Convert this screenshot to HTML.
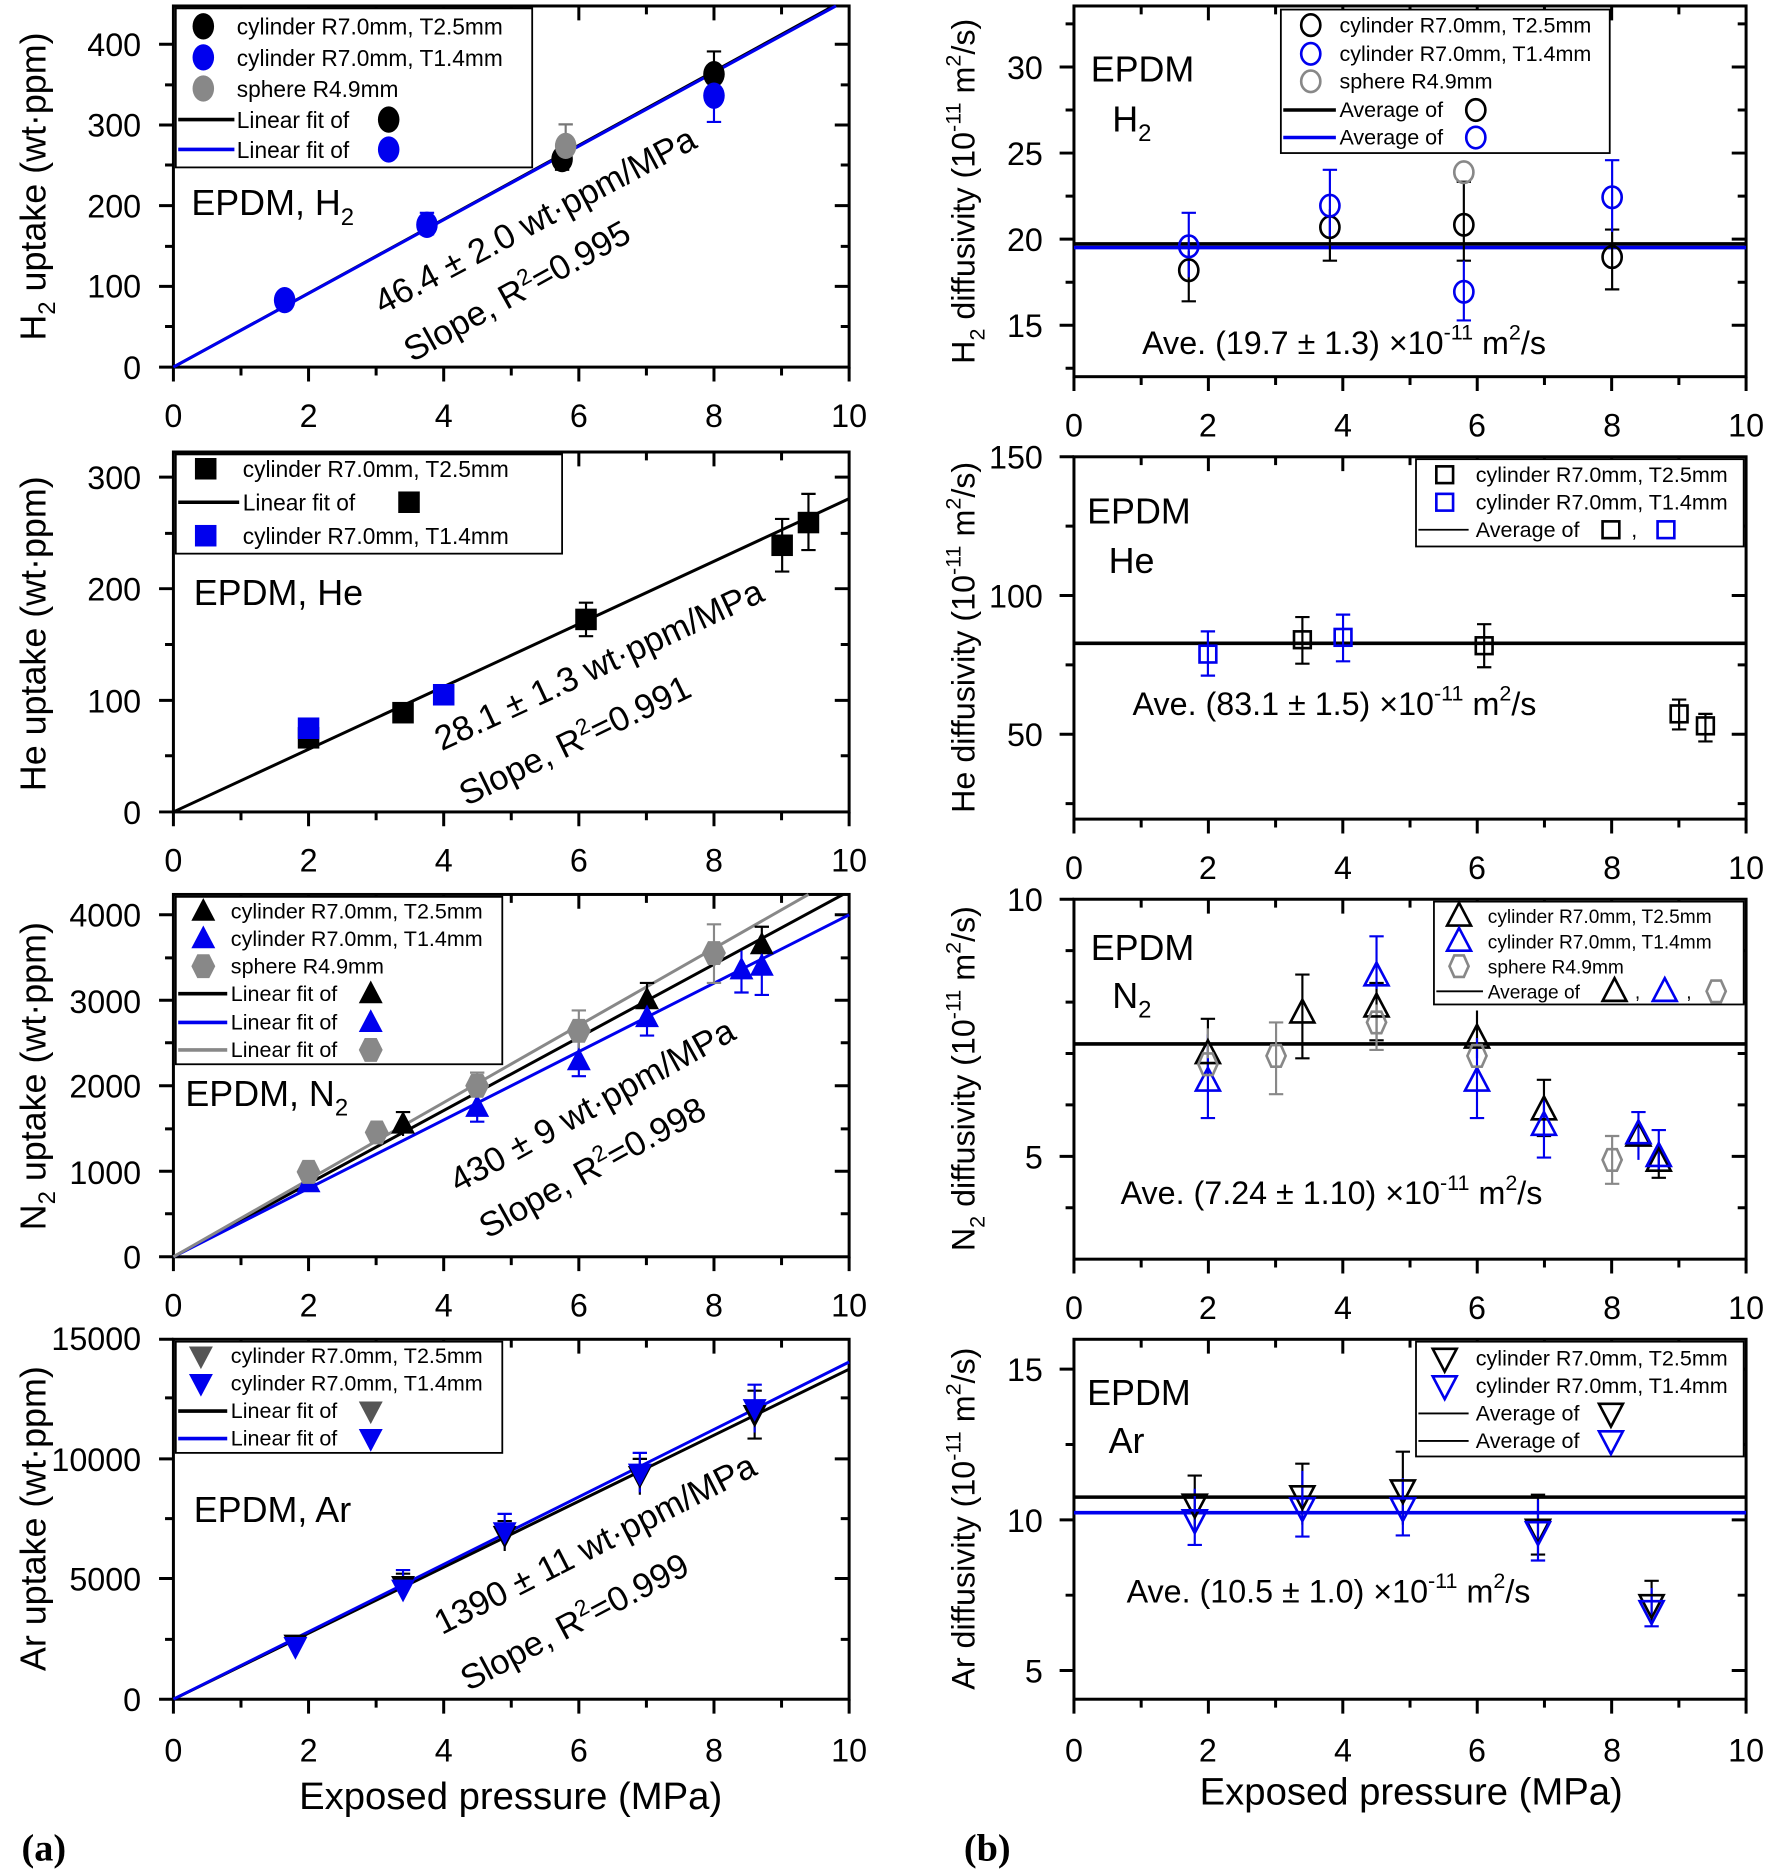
<!DOCTYPE html>
<html><head><meta charset="utf-8"><style>
html,body{margin:0;padding:0;background:#fff}
svg{display:block}
text{font-family:"Liberation Sans",Arial,sans-serif;fill:#000}
</style></head><body>
<svg width="1770" height="1875" viewBox="0 0 1480 1568" preserveAspectRatio="none" xmlns="http://www.w3.org/2000/svg">
<defs>
<symbol id="fc" overflow="visible"><ellipse cx="0" cy="0" rx="9" ry="11"/></symbol>
<symbol id="fs" overflow="visible"><rect x="-9" y="-9" width="18" height="18"/></symbol>
<symbol id="ft" overflow="visible"><path d="M0 -11 L10 8 L-10 8Z"/></symbol>
<symbol id="fd" overflow="visible"><path d="M0 11 L10 -8 L-10 -8Z"/></symbol>
<symbol id="fh" overflow="visible"><path d="M-5 -10 L5 -10 L10 0 L5 10 L-5 10 L-10 0Z"/></symbol>
<symbol id="oc" overflow="visible"><ellipse cx="0" cy="0" rx="8" ry="9" fill="none" stroke-width="2.2"/></symbol>
<symbol id="os" overflow="visible"><rect x="-7" y="-7" width="14" height="14" fill="none" stroke-width="2.2"/></symbol>
<symbol id="ot" overflow="visible"><path d="M0 -11 L10 8 L-10 8Z" fill="none" stroke-width="2.2"/></symbol>
<symbol id="od" overflow="visible"><path d="M0 11 L10 -8 L-10 -8Z" fill="none" stroke-width="2.2"/></symbol>
<symbol id="oh" overflow="visible"><path d="M-4 -9 L4 -9 L8 0 L4 9 L-4 9 L-8 0Z" fill="none" stroke-width="2.2"/></symbol>
</defs>

<g stroke="#000" stroke-width="2.5" fill="none">
<rect x="145" y="5" width="565" height="302"/>
<rect x="145" y="378" width="565" height="301"/>
<rect x="145" y="748" width="565" height="303"/>
<rect x="145" y="1120" width="565" height="301"/>
<rect x="898" y="5" width="562" height="310"/>
<rect x="898" y="382" width="562" height="303"/>
<rect x="898" y="752" width="562" height="301"/>
<rect x="898" y="1120" width="562" height="301"/>
</g>

<g stroke="#000" stroke-width="2.5">
<path d="M145 307v12M201.5 307v7M258 307v12M314.5 307v7M371 307v12M427.5 307v7M484 307v12M540.5 307v7M597 307v12M653.5 307v7M710 307v12
M201.5 5v7M258 5v12M314.5 5v7M371 5v12M427.5 5v7M484 5v12M540.5 5v7M597 5v12M653.5 5v7"/>
<path d="M145 679v12M201.5 679v7M258 679v12M314.5 679v7M371 679v12M427.5 679v7M484 679v12M540.5 679v7M597 679v12M653.5 679v7M710 679v12
M201.5 378v7M258 378v12M314.5 378v7M371 378v12M427.5 378v7M484 378v12M540.5 378v7M597 378v12M653.5 378v7"/>
<path d="M145 1051v12M201.5 1051v7M258 1051v12M314.5 1051v7M371 1051v12M427.5 1051v7M484 1051v12M540.5 1051v7M597 1051v12M653.5 1051v7M710 1051v12
M201.5 748v7M258 748v12M314.5 748v7M371 748v12M427.5 748v7M484 748v12M540.5 748v7M597 748v12M653.5 748v7"/>
<path d="M145 1421v12M201.5 1421v7M258 1421v12M314.5 1421v7M371 1421v12M427.5 1421v7M484 1421v12M540.5 1421v7M597 1421v12M653.5 1421v7M710 1421v12
M201.5 1120v7M258 1120v12M314.5 1120v7M371 1120v12M427.5 1120v7M484 1120v12M540.5 1120v7M597 1120v12M653.5 1120v7"/>
<path d="M898 315v12M954.2 315v7M1010.4 315v12M1066.6 315v7M1122.8 315v12M1179 315v7M1235.2 315v12M1291.4 315v7M1347.6 315v12M1403.8 315v7M1460 315v12
M954.2 5v7M1010.4 5v12M1066.6 5v7M1122.8 5v12M1179 5v7M1235.2 5v12M1291.4 5v7M1347.6 5v12M1403.8 5v7"/>
<path d="M898 685v12M954.2 685v7M1010.4 685v12M1066.6 685v7M1122.8 685v12M1179 685v7M1235.2 685v12M1291.4 685v7M1347.6 685v12M1403.8 685v7M1460 685v12
M954.2 382v7M1010.4 382v12M1066.6 382v7M1122.8 382v12M1179 382v7M1235.2 382v12M1291.4 382v7M1347.6 382v12M1403.8 382v7"/>
<path d="M898 1053v12M954.2 1053v7M1010.4 1053v12M1066.6 1053v7M1122.8 1053v12M1179 1053v7M1235.2 1053v12M1291.4 1053v7M1347.6 1053v12M1403.8 1053v7M1460 1053v12
M954.2 752v7M1010.4 752v12M1066.6 752v7M1122.8 752v12M1179 752v7M1235.2 752v12M1291.4 752v7M1347.6 752v12M1403.8 752v7"/>
<path d="M898 1421v12M954.2 1421v7M1010.4 1421v12M1066.6 1421v7M1122.8 1421v12M1179 1421v7M1235.2 1421v12M1291.4 1421v7M1347.6 1421v12M1403.8 1421v7M1460 1421v12
M954.2 1120v7M1010.4 1120v12M1066.6 1120v7M1122.8 1120v12M1179 1120v7M1235.2 1120v12M1291.4 1120v7M1347.6 1120v12M1403.8 1120v7"/>
<path d="M145 307h-12M145 239.5h-12M145 172h-12M145 104.5h-12M145 37h-12M145 273h-7M145 206h-7M145 138h-7M145 71h-7
M710 239.5h-12M710 172h-12M710 104.5h-12M710 37h-12M710 273h-7M710 206h-7M710 138h-7M710 71h-7"/>
<path d="M145 679h-12M145 585.7h-12M145 492.3h-12M145 399h-12M145 632h-7M145 539h-7M145 446h-7
M710 585.7h-12M710 492.3h-12M710 399h-12M710 632h-7M710 539h-7M710 446h-7"/>
<path d="M145 1051h-12M145 979.5h-12M145 908h-12M145 836.5h-12M145 765h-12M145 1015h-7M145 944h-7M145 872h-7M145 801h-7
M710 979.5h-12M710 908h-12M710 836.5h-12M710 765h-12M710 1015h-7M710 944h-7M710 872h-7M710 801h-7"/>
<path d="M145 1421h-12M145 1320h-12M145 1220h-12M145 1120h-12M145 1371h-7M145 1270h-7M145 1169h-7
M710 1320h-12M710 1220h-12M710 1371h-7M710 1270h-7M710 1169h-7"/>
<path d="M898 272h-12M898 200h-12M898 128h-12M898 56h-12M898 308h-7M898 236h-7M898 164h-7M898 92h-7M898 20h-7
M1460 272h-12M1460 200h-12M1460 128h-12M1460 56h-12M1460 236h-7M1460 164h-7M1460 92h-7M1460 20h-7"/>
<path d="M898 614h-12M898 498h-12M898 382h-12M898 672h-7M898 556h-7M898 440h-7
M1460 614h-12M1460 498h-12M1460 672h-7M1460 556h-7M1460 440h-7"/>
<path d="M898 967h-12M898 752h-12M898 795h-7M898 838h-7M898 881h-7M898 924h-7M898 1010h-7
M1460 967h-12M1460 795h-7M1460 838h-7M1460 881h-7M1460 924h-7M1460 1010h-7"/>
<path d="M898 1397h-12M898 1271h-12M898 1145h-12M898 1334h-7M898 1208h-7
M1460 1397h-12M1460 1271h-12M1460 1145h-12M1460 1334h-7M1460 1208h-7"/>
</g>

<g font-size="27" text-anchor="middle">
<text x="145" y="357">0</text><text x="258" y="357">2</text><text x="371" y="357">4</text><text x="484" y="357">6</text><text x="597" y="357">8</text><text x="710" y="357">10</text>
<text x="145" y="729">0</text><text x="258" y="729">2</text><text x="371" y="729">4</text><text x="484" y="729">6</text><text x="597" y="729">8</text><text x="710" y="729">10</text>
<text x="145" y="1101">0</text><text x="258" y="1101">2</text><text x="371" y="1101">4</text><text x="484" y="1101">6</text><text x="597" y="1101">8</text><text x="710" y="1101">10</text>
<text x="145" y="1473">0</text><text x="258" y="1473">2</text><text x="371" y="1473">4</text><text x="484" y="1473">6</text><text x="597" y="1473">8</text><text x="710" y="1473">10</text>
<text x="898" y="365">0</text><text x="1010" y="365">2</text><text x="1123" y="365">4</text><text x="1235" y="365">6</text><text x="1348" y="365">8</text><text x="1460" y="365">10</text>
<text x="898" y="735">0</text><text x="1010" y="735">2</text><text x="1123" y="735">4</text><text x="1235" y="735">6</text><text x="1348" y="735">8</text><text x="1460" y="735">10</text>
<text x="898" y="1103">0</text><text x="1010" y="1103">2</text><text x="1123" y="1103">4</text><text x="1235" y="1103">6</text><text x="1348" y="1103">8</text><text x="1460" y="1103">10</text>
<text x="898" y="1473">0</text><text x="1010" y="1473">2</text><text x="1123" y="1473">4</text><text x="1235" y="1473">6</text><text x="1348" y="1473">8</text><text x="1460" y="1473">10</text>
</g>
<g font-size="27" text-anchor="end">
<text x="118" y="317">0</text><text x="118" y="249">100</text><text x="118" y="182">200</text><text x="118" y="114">300</text><text x="118" y="47">400</text>
<text x="118" y="689">0</text><text x="118" y="596">100</text><text x="118" y="502">200</text><text x="118" y="409">300</text>
<text x="118" y="1061">0</text><text x="118" y="990">1000</text><text x="118" y="918">2000</text><text x="118" y="847">3000</text><text x="118" y="775">4000</text>
<text x="118" y="1431">0</text><text x="118" y="1330">5000</text><text x="118" y="1230">10000</text><text x="118" y="1129">15000</text>
<text x="872" y="282">15</text><text x="872" y="210">20</text><text x="872" y="138">25</text><text x="872" y="66">30</text>
<text x="872" y="624">50</text><text x="872" y="508">100</text><text x="872" y="392">150</text>
<text x="872" y="977">5</text><text x="872" y="762">10</text>
<text x="872" y="1407">5</text><text x="872" y="1281">10</text><text x="872" y="1155">15</text>
</g>

<g font-size="30" text-anchor="middle">
<text transform="translate(38,156) rotate(-90)">H<tspan font-size="20" dy="8">2</tspan><tspan dy="-8"> uptake (wt·ppm)</tspan></text>
<text transform="translate(38,530) rotate(-90)">He uptake (wt·ppm)</text>
<text transform="translate(38,900) rotate(-90)">N<tspan font-size="20" dy="8">2</tspan><tspan dy="-8"> uptake (wt·ppm)</tspan></text>
<text transform="translate(38,1270) rotate(-90)">Ar uptake (wt·ppm)</text>
<text transform="translate(815,160) rotate(-90)" font-size="27">H<tspan font-size="18" dy="8">2</tspan><tspan dy="-8"> diffusivity (10</tspan><tspan font-size="18" dy="-12">-11</tspan><tspan dy="12"> m</tspan><tspan font-size="18" dy="-12">2</tspan><tspan dy="12">/s)</tspan></text>
<text transform="translate(815,533) rotate(-90)" font-size="27">He diffusivity (10<tspan font-size="18" dy="-12">-11</tspan><tspan dy="12"> m</tspan><tspan font-size="18" dy="-12">2</tspan><tspan dy="12">/s)</tspan></text>
<text transform="translate(815,902) rotate(-90)" font-size="27">N<tspan font-size="18" dy="8">2</tspan><tspan dy="-8"> diffusivity (10</tspan><tspan font-size="18" dy="-12">-11</tspan><tspan dy="12"> m</tspan><tspan font-size="18" dy="-12">2</tspan><tspan dy="12">/s)</tspan></text>
<text transform="translate(815,1270) rotate(-90)" font-size="27">Ar diffusivity (10<tspan font-size="18" dy="-12">-11</tspan><tspan dy="12"> m</tspan><tspan font-size="18" dy="-12">2</tspan><tspan dy="12">/s)</tspan></text>
<text x="427" y="1513" font-size="32">Exposed pressure (MPa)</text>
<text x="1180" y="1509" font-size="32">Exposed pressure (MPa)</text>
</g>
<text x="18" y="1556" font-size="32" font-weight="bold" style="font-family:'Liberation Serif',serif">(a)</text>
<text x="806" y="1556" font-size="32" font-weight="bold" style="font-family:'Liberation Serif',serif">(b)</text>

<!-- L1 -->
<line x1="145" y1="307" x2="697" y2="5" stroke="#000" stroke-width="2.5"/>
<line x1="145" y1="307" x2="699" y2="5" stroke="#0000ee" stroke-width="2.5"/>
<g stroke-width="1.8" fill="none">
<path stroke="#000" d="M597 43V80M591 43h12M591 80h12M470 120V142M464 142h12"/>
<path stroke="#0000ee" d="M357 178V196M351 178h12M351 196h12M597 60V102M591 102h12"/>
<path stroke="#777" d="M473 104V127M467 104h12"/>
</g>
<use href="#fc" x="597" y="62" fill="#000"/>
<use href="#fc" x="470" y="133" fill="#000"/>
<use href="#fc" x="473" y="122" fill="#888"/>
<use href="#fc" x="238" y="251" fill="#0000ee"/>
<use href="#fc" x="357" y="188" fill="#0000ee"/>
<use href="#fc" x="597" y="80" fill="#0000ee"/>
<rect x="147" y="7" width="298" height="133" fill="#fff" stroke="#000" stroke-width="1.5"/>
<g font-size="19">
<use href="#fc" x="170" y="22" fill="#000"/><text x="198" y="29">cylinder R7.0mm, T2.5mm</text>
<use href="#fc" x="170" y="48" fill="#0000ee"/><text x="198" y="55">cylinder R7.0mm, T1.4mm</text>
<use href="#fc" x="170" y="74" fill="#888"/><text x="198" y="81">sphere R4.9mm</text>
<line x1="149" y1="100" x2="196" y2="100" stroke="#000" stroke-width="3"/><text x="198" y="107">Linear fit of</text><use href="#fc" x="325" y="100" fill="#000"/>
<line x1="149" y1="125" x2="196" y2="125" stroke="#0000ee" stroke-width="3"/><text x="198" y="132">Linear fit of</text><use href="#fc" x="325" y="125" fill="#0000ee"/>
</g>
<text x="160" y="180" font-size="30">EPDM, H<tspan font-size="20" dy="8">2</tspan></text>
<text transform="translate(452,193) rotate(-28)" font-size="29" text-anchor="middle">46.4 ± 2.0 wt·ppm/MPa</text>
<text transform="translate(437,252) rotate(-29)" font-size="29" text-anchor="middle">Slope, R<tspan font-size="19" dy="-11">2</tspan><tspan dy="11">=0.995</tspan></text>

<!-- L2 -->
<line x1="145" y1="679" x2="710" y2="417" stroke="#000" stroke-width="2.5"/>
<g stroke="#000" stroke-width="1.8" fill="none">
<path d="M490 504V532M484 504h12M484 532h12M654 434V478M648 434h12M648 478h12M676 413V460M670 413h12M670 460h12M258 610V625M252 625h12"/>
</g>
<use href="#fs" x="258" y="617" fill="#000"/>
<use href="#fs" x="337" y="596" fill="#000"/>
<use href="#fs" x="490" y="518" fill="#000"/>
<use href="#fs" x="654" y="456" fill="#000"/>
<use href="#fs" x="676" y="437" fill="#000"/>
<use href="#fs" x="258" y="609" fill="#0000ee"/>
<use href="#fs" x="371" y="581" fill="#0000ee"/>
<rect x="147" y="380" width="323" height="83" fill="#fff" stroke="#000" stroke-width="1.5"/>
<g font-size="19">
<use href="#fs" x="172" y="392" fill="#000"/><text x="203" y="399">cylinder R7.0mm, T2.5mm</text>
<line x1="149" y1="420" x2="200" y2="420" stroke="#000" stroke-width="3"/><text x="203" y="427">Linear fit of</text><use href="#fs" x="342" y="420" fill="#000"/>
<use href="#fs" x="172" y="448" fill="#0000ee"/><text x="203" y="455">cylinder R7.0mm, T1.4mm</text>
</g>
<text x="162" y="506" font-size="30">EPDM, He</text>
<text transform="translate(505,565) rotate(-25)" font-size="29" text-anchor="middle">28.1 ± 1.3 wt·ppm/MPa</text>
<text transform="translate(485,628) rotate(-26)" font-size="29" text-anchor="middle">Slope, R<tspan font-size="19" dy="-11">2</tspan><tspan dy="11">=0.991</tspan></text>

<!-- L3 -->
<line x1="145" y1="1051" x2="705" y2="748" stroke="#000" stroke-width="2.5"/>
<line x1="145" y1="1051" x2="710" y2="765" stroke="#0000ee" stroke-width="2.5"/>
<line x1="145" y1="1051" x2="676" y2="748" stroke="#888" stroke-width="2.5"/>
<g stroke-width="1.8" fill="none">
<path stroke="#000" d="M541 822V850M535 822h12M637 775V805M631 775h12M484 860V885M478 860h12M337 930V950M331 930h12"/>
<path stroke="#0000ee" d="M620 795V830M614 830h12M637 790V832M631 832h12M541 836V866M535 866h12M484 873V900M478 900h12M399 914V938M393 938h12"/>
<path stroke="#888" d="M597 773V822M591 773h12M591 822h12M484 845V878M478 845h12M399 897V918M393 897h12"/>
</g>
<use href="#ft" x="337" y="940" fill="#000"/>
<use href="#ft" x="541" y="836" fill="#000"/>
<use href="#ft" x="637" y="790" fill="#000"/>
<use href="#ft" x="258" y="989" fill="#0000ee"/>
<use href="#ft" x="399" y="926" fill="#0000ee"/>
<use href="#ft" x="484" y="887" fill="#0000ee"/>
<use href="#ft" x="541" y="851" fill="#0000ee"/>
<use href="#ft" x="620" y="811" fill="#0000ee"/>
<use href="#ft" x="637" y="808" fill="#0000ee"/>
<use href="#fh" x="258" y="980" fill="#888"/>
<use href="#fh" x="315" y="947" fill="#888"/>
<use href="#fh" x="399" y="908" fill="#888"/>
<use href="#fh" x="484" y="862" fill="#888"/>
<use href="#fh" x="597" y="797" fill="#888"/>
<rect x="147" y="750" width="273" height="140" fill="#fff" stroke="#000" stroke-width="1.5"/>
<g font-size="18">
<use href="#ft" x="170" y="762" fill="#000"/><text x="193" y="768">cylinder R7.0mm, T2.5mm</text>
<use href="#ft" x="170" y="785" fill="#0000ee"/><text x="193" y="791">cylinder R7.0mm, T1.4mm</text>
<use href="#fh" x="170" y="808" fill="#888"/><text x="193" y="814">sphere R4.9mm</text>
<line x1="149" y1="831" x2="190" y2="831" stroke="#000" stroke-width="3"/><text x="193" y="837">Linear fit of</text><use href="#ft" x="310" y="831" fill="#000"/>
<line x1="149" y1="855" x2="190" y2="855" stroke="#0000ee" stroke-width="3"/><text x="193" y="861">Linear fit of</text><use href="#ft" x="310" y="855" fill="#0000ee"/>
<line x1="149" y1="878" x2="190" y2="878" stroke="#888" stroke-width="3"/><text x="193" y="884">Linear fit of</text><use href="#fh" x="310" y="878" fill="#888"/>
</g>
<text x="155" y="925" font-size="30">EPDM, N<tspan font-size="20" dy="8">2</tspan></text>
<text transform="translate(500,933) rotate(-29)" font-size="29" text-anchor="middle">430 ± 9 wt·ppm/MPa</text>
<text transform="translate(500,985) rotate(-29)" font-size="29" text-anchor="middle">Slope, R<tspan font-size="19" dy="-11">2</tspan><tspan dy="11">=0.998</tspan></text>

<!-- L4 -->
<line x1="145" y1="1421" x2="710" y2="1145" stroke="#000" stroke-width="2.5"/>
<line x1="145" y1="1421" x2="710" y2="1139" stroke="#0000ee" stroke-width="2.5"/>
<g stroke-width="1.8" fill="none">
<path stroke="#000" d="M631 1163V1203M625 1163h12M625 1203h12M535 1220V1250M529 1220h12M422 1272V1297M416 1272h12M337 1316V1336M331 1316h12"/>
<path stroke="#0000ee" d="M631 1158V1198M625 1158h12M535 1215V1248M529 1215h12M422 1266V1294M416 1266h12M337 1313V1333M331 1313h12"/>
</g>
<use href="#fd" x="247" y="1375" fill="#000"/>
<use href="#fd" x="337" y="1326" fill="#000"/>
<use href="#fd" x="422" y="1284" fill="#000"/>
<use href="#fd" x="535" y="1234" fill="#000"/>
<use href="#fd" x="631" y="1183" fill="#000"/>
<use href="#fd" x="247" y="1377" fill="#0000ee"/>
<use href="#fd" x="337" y="1329" fill="#0000ee"/>
<use href="#fd" x="422" y="1281" fill="#0000ee"/>
<use href="#fd" x="535" y="1232" fill="#0000ee"/>
<use href="#fd" x="631" y="1178" fill="#0000ee"/>
<rect x="147" y="1122" width="273" height="93" fill="#fff" stroke="#000" stroke-width="1.5"/>
<g font-size="18">
<use href="#fd" x="168" y="1134" fill="#555"/><text x="193" y="1140">cylinder R7.0mm, T2.5mm</text>
<use href="#fd" x="168" y="1157" fill="#0000ee"/><text x="193" y="1163">cylinder R7.0mm, T1.4mm</text>
<line x1="149" y1="1180" x2="190" y2="1180" stroke="#000" stroke-width="3"/><text x="193" y="1186">Linear fit of</text><use href="#fd" x="310" y="1180" fill="#555"/>
<line x1="149" y1="1203" x2="190" y2="1203" stroke="#0000ee" stroke-width="3"/><text x="193" y="1209">Linear fit of</text><use href="#fd" x="310" y="1203" fill="#0000ee"/>
</g>
<text x="162" y="1273" font-size="30">EPDM, Ar</text>
<text transform="translate(502,1300) rotate(-27)" font-size="29" text-anchor="middle">1390 ± 11 wt·ppm/MPa</text>
<text transform="translate(485,1365) rotate(-28)" font-size="29" text-anchor="middle">Slope, R<tspan font-size="19" dy="-11">2</tspan><tspan dy="11">=0.999</tspan></text>

<!-- R1 -->
<line x1="898" y1="204" x2="1460" y2="204" stroke="#000" stroke-width="3"/>
<line x1="898" y1="207" x2="1460" y2="207" stroke="#0000ee" stroke-width="3"/>
<g stroke-width="1.8" fill="none">
<path stroke="#000" d="M994 210V252M988 252h12M1112 175V218M1106 218h12M1224 152V218M1218 152h12M1218 218h12M1348 192V242M1342 192h12M1342 242h12"/>
<path stroke="#0000ee" d="M994 178V232M988 178h12M1112 142V198M1106 142h12M1224 218V268M1218 268h12M1348 134V194M1342 134h12"/>
</g>
<use href="#oc" x="994" y="226" stroke="#000"/>
<use href="#oc" x="1112" y="190" stroke="#000"/>
<use href="#oc" x="1224" y="188" stroke="#000"/>
<use href="#oc" x="1348" y="215" stroke="#000"/>
<use href="#oc" x="994" y="206" stroke="#0000ee"/>
<use href="#oc" x="1112" y="172" stroke="#0000ee"/>
<use href="#oc" x="1224" y="244" stroke="#0000ee"/>
<use href="#oc" x="1348" y="165" stroke="#0000ee"/>
<use href="#oc" x="1224" y="144" stroke="#888"/>
<rect x="1071" y="8" width="275" height="120" fill="#fff" stroke="#000" stroke-width="1.5"/>
<g font-size="18">
<use href="#oc" x="1096" y="21" stroke="#000"/><text x="1120" y="27">cylinder R7.0mm, T2.5mm</text>
<use href="#oc" x="1096" y="45" stroke="#0000ee"/><text x="1120" y="51">cylinder R7.0mm, T1.4mm</text>
<use href="#oc" x="1096" y="68" stroke="#888"/><text x="1120" y="74">sphere R4.9mm</text>
<line x1="1073" y1="92" x2="1117" y2="92" stroke="#000" stroke-width="3"/><text x="1120" y="98">Average of</text><use href="#oc" x="1234" y="92" stroke="#000"/>
<line x1="1073" y1="115" x2="1117" y2="115" stroke="#0000ee" stroke-width="3"/><text x="1120" y="121">Average of</text><use href="#oc" x="1234" y="115" stroke="#0000ee"/>
</g>
<text x="912" y="68" font-size="30">EPDM</text>
<text x="930" y="110" font-size="30">H<tspan font-size="20" dy="8">2</tspan></text>
<text x="955" y="296" font-size="27">Ave. (19.7 ± 1.3) ×10<tspan font-size="18" dy="-12">-11</tspan><tspan dy="12"> m</tspan><tspan font-size="18" dy="-12">2</tspan><tspan dy="12">/s</tspan></text>

<!-- R2 -->
<line x1="898" y1="538" x2="1460" y2="538" stroke="#000" stroke-width="3"/>
<g stroke-width="1.8" fill="none">
<path stroke="#000" d="M1089 516V555M1083 516h12M1083 555h12M1241 522V558M1235 522h12M1235 558h12M1404 585V610M1398 585h12M1398 610h12M1426 597V620M1420 597h12M1420 620h12"/>
<path stroke="#0000ee" d="M1010 528V565M1004 528h12M1004 565h12M1123 514V553M1117 514h12M1117 553h12"/>
</g>
<use href="#os" x="1089" y="535" stroke="#000"/>
<use href="#os" x="1241" y="540" stroke="#000"/>
<use href="#os" x="1404" y="597" stroke="#000"/>
<use href="#os" x="1426" y="607" stroke="#000"/>
<use href="#os" x="1010" y="547" stroke="#0000ee"/>
<use href="#os" x="1123" y="533" stroke="#0000ee"/>
<rect x="1184" y="384" width="274" height="73" fill="#fff" stroke="#000" stroke-width="1.5"/>
<g font-size="18">
<use href="#os" x="1208" y="397" stroke="#000"/><text x="1234" y="403">cylinder R7.0mm, T2.5mm</text>
<use href="#os" x="1208" y="420" stroke="#0000ee"/><text x="1234" y="426">cylinder R7.0mm, T1.4mm</text>
<line x1="1186" y1="443" x2="1228" y2="443" stroke="#000" stroke-width="1.5"/><text x="1234" y="449">Average of</text><use href="#os" x="1347" y="443" stroke="#000"/><text x="1364" y="449">,</text><use href="#os" x="1393" y="443" stroke="#0000ee"/>
</g>
<text x="909" y="438" font-size="30">EPDM</text>
<text x="927" y="479" font-size="30">He</text>
<text x="947" y="598" font-size="27">Ave. (83.1 ± 1.5) ×10<tspan font-size="18" dy="-12">-11</tspan><tspan dy="12"> m</tspan><tspan font-size="18" dy="-12">2</tspan><tspan dy="12">/s</tspan></text>

<!-- R3 -->
<line x1="898" y1="873" x2="1460" y2="873" stroke="#000" stroke-width="3"/>
<g stroke-width="1.8" fill="none">
<path stroke="#000" d="M1010 852V900M1004 852h12M1089 815V885M1083 815h12M1083 885h12M1151 822V870M1145 822h12M1145 870h12M1235 845V885M1291 903V950M1285 903h12M1285 950h12M1387 955V985M1381 985h12"/>
<path stroke="#0000ee" d="M1010 865V935M1004 935h12M1151 783V827M1145 783h12M1235 868V935M1229 935h12M1291 918V968M1285 968h12M1370 930V970M1364 930h12M1387 945V980M1381 945h12"/>
<path stroke="#888" d="M1010 860V885M1067 855V915M1061 855h12M1061 915h12M1151 840V878M1145 878h12M1348 950V990M1342 950h12M1342 990h12"/>
</g>
<use href="#ot" x="1010" y="881" stroke="#000"/>
<use href="#ot" x="1089" y="847" stroke="#000"/>
<use href="#ot" x="1151" y="842" stroke="#000"/>
<use href="#ot" x="1235" y="868" stroke="#000"/>
<use href="#ot" x="1291" y="928" stroke="#000"/>
<use href="#ot" x="1387" y="971" stroke="#000"/>
<use href="#ot" x="1370" y="950" stroke="#000"/>
<use href="#ot" x="1010" y="904" stroke="#0000ee"/>
<use href="#ot" x="1151" y="816" stroke="#0000ee"/>
<use href="#ot" x="1235" y="904" stroke="#0000ee"/>
<use href="#ot" x="1291" y="941" stroke="#0000ee"/>
<use href="#ot" x="1370" y="948" stroke="#0000ee"/>
<use href="#ot" x="1387" y="967" stroke="#0000ee"/>
<use href="#oh" x="1010" y="890" stroke="#888"/>
<use href="#oh" x="1067" y="883" stroke="#888"/>
<use href="#oh" x="1151" y="855" stroke="#888"/>
<use href="#oh" x="1235" y="883" stroke="#888"/>
<use href="#oh" x="1348" y="970" stroke="#888"/>
<rect x="1199" y="754" width="259" height="86" fill="#fff" stroke="#000" stroke-width="1.5"/>
<g font-size="16">
<use href="#ot" x="1220" y="766" stroke="#000"/><text x="1244" y="772">cylinder R7.0mm, T2.5mm</text>
<use href="#ot" x="1220" y="787" stroke="#0000ee"/><text x="1244" y="793">cylinder R7.0mm, T1.4mm</text>
<use href="#oh" x="1220" y="808" stroke="#888"/><text x="1244" y="814">sphere R4.9mm</text>
<line x1="1201" y1="829" x2="1240" y2="829" stroke="#000" stroke-width="1.5"/><text x="1244" y="835">Average of</text><use href="#ot" x="1350" y="829" stroke="#000"/><text x="1367" y="835">,</text><use href="#ot" x="1392" y="829" stroke="#0000ee"/><text x="1410" y="835">,</text><use href="#oh" x="1435" y="829" stroke="#888"/>
</g>
<text x="912" y="803" font-size="30">EPDM</text>
<text x="930" y="843" font-size="30">N<tspan font-size="20" dy="8">2</tspan></text>
<text x="937" y="1007" font-size="27">Ave. (7.24 ± 1.10) ×10<tspan font-size="18" dy="-12">-11</tspan><tspan dy="12"> m</tspan><tspan font-size="18" dy="-12">2</tspan><tspan dy="12">/s</tspan></text>

<!-- R4 -->
<line x1="898" y1="1252" x2="1460" y2="1252" stroke="#000" stroke-width="3"/>
<line x1="898" y1="1265" x2="1460" y2="1265" stroke="#0000ee" stroke-width="3"/>
<g stroke-width="1.8" fill="none">
<path stroke="#000" d="M999 1234V1280M993 1234h12M1089 1224V1275M1083 1224h12M1173 1214V1275M1167 1214h12M1286 1250V1300M1280 1250h12M1280 1300h12M1381 1322V1358M1375 1322h12"/>
<path stroke="#0000ee" d="M999 1245V1292M993 1292h12M1089 1230V1285M1083 1285h12M1173 1236V1284M1167 1284h12M1286 1254V1305M1280 1305h12M1381 1328V1360M1375 1360h12"/>
</g>
<use href="#od" x="999" y="1258" stroke="#000"/>
<use href="#od" x="1089" y="1251" stroke="#000"/>
<use href="#od" x="1173" y="1246" stroke="#000"/>
<use href="#od" x="1286" y="1279" stroke="#000"/>
<use href="#od" x="1381" y="1342" stroke="#000"/>
<use href="#od" x="999" y="1271" stroke="#0000ee"/>
<use href="#od" x="1089" y="1261" stroke="#0000ee"/>
<use href="#od" x="1173" y="1261" stroke="#0000ee"/>
<use href="#od" x="1286" y="1281" stroke="#0000ee"/>
<use href="#od" x="1381" y="1347" stroke="#0000ee"/>
<rect x="1184" y="1122" width="274" height="96" fill="#fff" stroke="#000" stroke-width="1.5"/>
<g font-size="18">
<use href="#od" x="1208" y="1136" stroke="#000"/><text x="1234" y="1142">cylinder R7.0mm, T2.5mm</text>
<use href="#od" x="1208" y="1159" stroke="#0000ee"/><text x="1234" y="1165">cylinder R7.0mm, T1.4mm</text>
<line x1="1186" y1="1182" x2="1228" y2="1182" stroke="#000" stroke-width="1.5"/><text x="1234" y="1188">Average of</text><use href="#od" x="1347" y="1182" stroke="#000"/>
<line x1="1186" y1="1205" x2="1228" y2="1205" stroke="#000" stroke-width="1.5"/><text x="1234" y="1211">Average of</text><use href="#od" x="1347" y="1205" stroke="#0000ee"/>
</g>
<text x="909" y="1175" font-size="30">EPDM</text>
<text x="927" y="1215" font-size="30">Ar</text>
<text x="942" y="1340" font-size="27">Ave. (10.5 ± 1.0) ×10<tspan font-size="18" dy="-12">-11</tspan><tspan dy="12"> m</tspan><tspan font-size="18" dy="-12">2</tspan><tspan dy="12">/s</tspan></text>
</svg>
</body></html>
